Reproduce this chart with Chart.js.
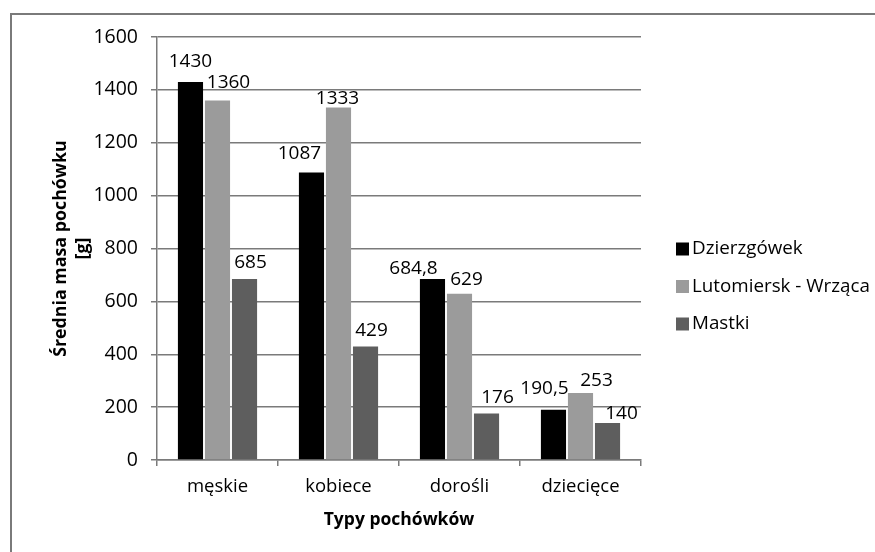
<!DOCTYPE html>
<html>
<head>
<meta charset="utf-8">
<script src="https://cdn.jsdelivr.net/npm/chart.js@4/dist/chart.umd.min.js"></script>
<style>
  html, body { margin: 0; padding: 0; background: #fff; }
  #wrap { position: relative; width: 875px; height: 552px; }
</style>
</head>
<body>
<div id="wrap"><canvas id="c" width="875" height="552"></canvas></div>
<script>
const categories = ['męskie', 'kobiece', 'dorośli', 'dziecięce'];
const seriesNames = ['Dzierzgówek', 'Lutomiersk - Wrząca', 'Mastki'];
const dzierzgowek = [1430, 1087, 684.8, 190.5];
const lutomiersk = [1360, 1333, 629, 253];
const mastki = [685, 429, 176, 140];
const yTicks = [0, 200, 400, 600, 800, 1000, 1200, 1400, 1600];
const xTitle = 'Typy pochówków';
const yTitle = ['Średnia masa pochówku', '[g]'];

const colors = ['#000000', '#9b9b9b', '#5e5e5e'];
const FONT = "'Open Sans', 'DejaVu Sans', sans-serif";

// label nudges (px) relative to bar top-centre, like manual placement in the source
const labelShift = [
  [[0, -20], [-12, -19], [-19, -10], [-9, -21]],
  [[11, -18], [-1, -9], [7, -14], [16, -13]],
  [[6, -16], [6, -16], [11, -16], [14, -9]]
];

const fmt = v => String(v).replace('.', ',');

const framePlugin = {
  id: 'frame',
  beforeDraw(chart) {
    const ctx = chart.ctx;
    ctx.save();
    ctx.fillStyle = '#ffffff';
    ctx.fillRect(0, 0, chart.width, chart.height);
    ctx.strokeStyle = '#7a7a7a';
    ctx.lineWidth = 2;
    ctx.strokeRect(11, 14, 900, 600);
    ctx.restore();
  }
};

const labelPlugin = {
  id: 'barLabels',
  afterDatasetsDraw(chart) {
    const ctx = chart.ctx;
    ctx.save();
    ctx.font = '19px ' + FONT;
    ctx.fillStyle = '#000';
    ctx.textAlign = 'center';
    ctx.textBaseline = 'middle';
    chart.data.datasets.forEach((ds, di) => {
      const meta = chart.getDatasetMeta(di);
      meta.data.forEach((bar, i) => {
        const s = labelShift[di][i];
        ctx.fillText(fmt(ds.data[i]), bar.x + s[0], bar.y + s[1]);
      });
    });
    ctx.restore();
  }
};

const legendPlugin = {
  id: 'sideLegend',
  afterDraw(chart) {
    const ctx = chart.ctx;
    ctx.save();
    ctx.font = '18.8px ' + FONT;
    ctx.textBaseline = 'middle';
    ctx.textAlign = 'left';
    const x0 = 676, y0 = 249, gap = 37.5;
    chart.data.datasets.forEach((ds, i) => {
      const y = y0 + i * gap;
      ctx.fillStyle = ds.backgroundColor;
      ctx.fillRect(x0, y - 6.5, 13, 13);
      ctx.fillStyle = '#000';
      ctx.fillText(ds.label, x0 + 16, y);
    });
    ctx.restore();
  }
};

new Chart(document.getElementById('c'), {
  type: 'bar',
  data: {
    labels: categories,
    datasets: [
      { label: seriesNames[0], data: dzierzgowek, backgroundColor: colors[0] },
      { label: seriesNames[1], data: lutomiersk, backgroundColor: colors[1] },
      { label: seriesNames[2], data: mastki, backgroundColor: colors[2] }
    ]
  },
  options: {
    responsive: false,
    animation: false,
    events: [],
    layout: { padding: { left: 40, right: 234, top: 37, bottom: 10 } },
    datasets: { bar: { categoryPercentage: 0.67, barPercentage: 0.93, borderWidth: 0 } },
    plugins: { legend: { display: false }, tooltip: { enabled: false } },
    scales: {
      x: {
        grid: { drawOnChartArea: false, drawTicks: true, tickLength: 6, color: '#7a7a7a', lineWidth: 1.5 },
        border: { color: '#7a7a7a', width: 1.5 },
        ticks: { color: '#000', font: { family: FONT, size: 18.5 }, padding: 10 },
        title: { display: true, text: xTitle, color: '#000', font: { family: FONT, size: 17.5, weight: 'bold', lineHeight: 1.3 }, padding: { top: 0, bottom: 11 } },
        afterFit(s) { s.height = 82; }
      },
      y: {
        min: 0, max: 1600,
        afterBuildTicks(s) { s.ticks = yTicks.map(v => ({ value: v })); },
        grid: { color: '#7a7a7a', lineWidth: 1.5, tickLength: 6 },
        border: { color: '#7a7a7a', width: 1.5 },
        ticks: { color: '#000', font: { family: FONT, size: 19.5 }, padding: 13, callback: v => String(v) },
        title: { display: true, text: yTitle, color: '#000', font: { family: FONT, size: 17.8, weight: 'bold', lineHeight: 1.25 }, padding: { top: 10, bottom: 4 } },
        afterFit(s) { s.width = 117; }
      }
    }
  },
  plugins: [framePlugin, labelPlugin, legendPlugin]
});
</script>
</body>
</html>
